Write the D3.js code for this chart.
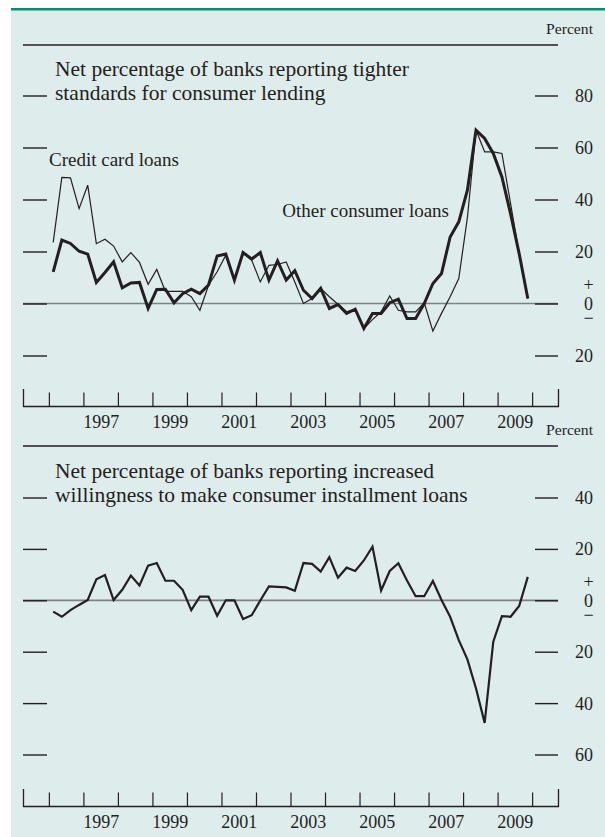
<!DOCTYPE html>
<html>
<head>
<meta charset="utf-8">
<script src="https://cdn.jsdelivr.net/npm/d3@7"></script>
<style>
  html, body { margin: 0; padding: 0; background: #ffffff; }
  svg { display: block; }
</style>
</head>
<body>
<svg id="chart" width="605" height="837"></svg>
<script>
// ---------------- DATA ----------------
const quarters = [
  "1996Q1","1996Q2","1996Q3","1996Q4","1997Q1","1997Q2","1997Q3","1997Q4",
  "1998Q1","1998Q2","1998Q3","1998Q4","1999Q1","1999Q2","1999Q3","1999Q4",
  "2000Q1","2000Q2","2000Q3","2000Q4","2001Q1","2001Q2","2001Q3","2001Q4",
  "2002Q1","2002Q2","2002Q3","2002Q4","2003Q1","2003Q2","2003Q3","2003Q4",
  "2004Q1","2004Q2","2004Q3","2004Q4","2005Q1","2005Q2","2005Q3","2005Q4",
  "2006Q1","2006Q2","2006Q3","2006Q4","2007Q1","2007Q2","2007Q3","2007Q4",
  "2008Q1","2008Q2","2008Q3","2008Q4","2009Q1","2009Q2","2009Q3","2009Q4"
];
// Tighter standards, credit card loans (thin line)
const creditCard = [
  23.5, 48.5, 48.3, 36.5, 45.5, 23.0, 24.7, 22.1,
  16.0, 19.6, 15.8, 7.4, 13.1, 4.7, 4.7, 4.7,
  2.6, -2.6, 7.0, 12.2, 18.6, 9.0, 19.6, 16.7,
  8.3, 14.7, 15.0, 16.0, 8.3, 0.0, 1.9, 5.8,
  2.6, -0.3, -3.2, -2.2, -9.6, -6.2, -3.2, 2.9,
  -2.6, -3.2, -3.2, 0.3, -10.6, -3.8, 2.6, 9.6,
  33.0, 66.7, 58.3, 58.3, 57.7, 38.5, 19.2, 1.9
];
// Tighter standards, other consumer loans (thick line)
const otherConsumer = [
  12.2, 24.4, 23.1, 20.1, 19.0, 8.1, 11.9, 16.0,
  6.0, 7.9, 8.1, -1.9, 5.4, 5.5, 0.3, 3.8,
  5.5, 3.8, 7.1, 18.3, 19.0, 9.0, 19.6, 17.1,
  19.6, 9.0, 16.4, 9.0, 12.6, 5.1, 1.9, 5.8,
  -1.9, -0.4, -3.8, -2.2, -9.6, -3.8, -3.8, 0.3,
  1.7, -5.8, -5.8, 0.0, 7.7, 11.5, 25.6, 31.4,
  43.6, 66.7, 63.5, 57.7, 48.7, 34.6, 19.2, 1.9
];
// Increased willingness to make consumer installment loans
const willingness = [
  -4.4, -6.4, -3.8, -1.8, 0.1, 8.2, 9.8, 0.1,
  4.1, 9.6, 5.8, 13.5, 14.5, 7.6, 7.6, 4.1,
  -3.8, 1.4, 1.4, -6.0, 0.0, 0.0, -7.3, -5.8,
  -0.1, 5.4, 5.2, 5.0, 3.7, 14.5, 14.2, 11.2,
  16.8, 8.8, 12.7, 11.4, 15.5, 20.9, 3.8, 11.4,
  14.4, 7.7, 1.6, 1.6, 7.5, 0.1, -6.4, -15.5,
  -23.0, -34.3, -47.7, -16.1, -6.2, -6.4, -2.2, 9.1
];
const yearTicks = [1996,1997,1998,1999,2000,2001,2002,2003,2004,2005,2006,2007,2008,2009,2010];
const yearLabels = ["1997","1999","2001","2003","2005","2007","2009"];
const topTicks = [80, 60, 40, 20, 0, -20];
const bottomTicks = [40, 20, 0, -20, -40, -60];
const topTitle = ["Net percentage of banks reporting tighter", "standards for consumer lending"];
const bottomTitle = ["Net percentage of banks reporting increased", "willingness to make consumer installment loans"];
const seriesLabels = ["Credit card loans", "Other consumer loans"];

// ---------------- SETUP ----------------
const INK = "#231f20";
const SERIF = "'Liberation Serif', 'Times New Roman', Times, serif";
const svg = d3.select("#chart");

const qTime = q => +q.slice(0, 4) + (+q.slice(5) - 1) / 4 + 0.125;
const xScale = d3.scaleLinear().domain([1995.25, 2010.75]).range([23, 558]);

// background and top rule
svg.append("rect").attr("x", 11).attr("y", 9).attr("width", 594).attr("height", 828).attr("fill", "#dfecec");
svg.append("rect").attr("x", 11).attr("y", 8).attr("width", 594).attr("height", 2.5).attr("fill", "#0b8a74");

function panel(cfg) {
  const g = svg.append("g");
  const y = d3.scaleLinear().domain(cfg.domain).range(cfg.range);

  // "Percent" and header rule
  g.append("text").attr("x", 593).attr("y", cfg.percentY).attr("text-anchor", "end")
    .attr("font-family", SERIF).attr("font-size", 14.5).attr("fill", INK)
    .attr("textLength", 47).attr("lengthAdjust", "spacingAndGlyphs")
    .text("Percent");
  g.append("line").attr("x1", 23).attr("x2", 558).attr("y1", cfg.ruleY).attr("y2", cfg.ruleY)
    .attr("stroke", INK).attr("stroke-width", 1.3);

  // title
  g.selectAll("text.title").data(cfg.title).join("text").attr("class", "title")
    .attr("x", 55).attr("y", (d, i) => cfg.titleY + i * 24)
    .attr("font-family", SERIF).attr("font-size", 21.5).attr("fill", INK)
    .text(d => d);

  // zero line
  g.append("line").attr("x1", 23).attr("x2", 558).attr("y1", y(0)).attr("y2", y(0))
    .attr("stroke", "#7d8283").attr("stroke-width", 1.7);

  // left dashes
  const la = g.append("g").attr("transform", "translate(47,0)")
    .call(d3.axisLeft(y).tickValues(cfg.ticks).tickSize(24).tickFormat(""));
  la.select(".domain").remove();
  la.selectAll(".tick line").attr("stroke", INK).attr("stroke-width", 1.4);

  // right dashes + labels
  const ra = g.append("g").attr("transform", "translate(535,0)")
    .call(d3.axisRight(y).tickValues(cfg.ticks).tickSize(23)
      .tickFormat(d => d === 0 ? "0" : String(Math.abs(d))));
  ra.select(".domain").remove();
  ra.selectAll(".tick line").attr("stroke", INK).attr("stroke-width", 1.4);
  ra.selectAll(".tick text").attr("x", 58).attr("text-anchor", "end")
    .attr("font-family", SERIF).attr("font-size", 18).attr("fill", INK)
    .attr("dy", "0.33em");
  ra.selectAll(".tick").filter(d => d === 0).select("text")
    .attr("x", 53.5).attr("text-anchor", "middle");
  ra.append("text").attr("x", 53.5).attr("y", y(0) - 18.5).attr("dy", "0.33em")
    .attr("text-anchor", "middle").attr("font-family", SERIF).attr("font-size", 18).attr("fill", INK).text("+");
  ra.append("text").attr("x", 53.5).attr("y", y(0) + 14.5).attr("dy", "0.33em")
    .attr("text-anchor", "middle").attr("font-family", SERIF).attr("font-size", 18).attr("fill", INK).text("\u2212");

  // x axis ticks
  const xa = g.append("g").attr("transform", `translate(0,${cfg.axisY})`)
    .call(d3.axisBottom(xScale).tickValues(yearTicks).tickSizeInner(-13.5).tickSizeOuter(-17).tickFormat(""));
  xa.select(".domain").attr("stroke", INK).attr("stroke-width", 1.3);
  xa.selectAll(".tick line").attr("stroke", INK).attr("stroke-width", 1.2);

  // x axis labels (centred in the year)
  const xl = g.append("g").attr("transform", `translate(0,${cfg.axisY})`)
    .call(d3.axisBottom(xScale).tickValues(yearLabels.map(s => +s + 0.5)).tickSize(0).tickPadding(9)
      .tickFormat((d, i) => yearLabels[i]));
  xl.select(".domain").remove();
  xl.selectAll(".tick text").attr("font-family", SERIF).attr("font-size", 18).attr("fill", INK);

  // series
  cfg.series.forEach(s => {
    const line = d3.line().x((d, i) => xScale(qTime(quarters[i]))).y(d => y(d));
    g.append("path").datum(s.values).attr("d", line).attr("fill", "none")
      .attr("stroke", INK).attr("stroke-width", s.width).attr("stroke-linejoin", "miter");
  });
  return { g, y };
}

const topPanel = panel({
  domain: [-20, 80], range: [355.5, 95.5],
  percentY: 34, ruleY: 45, titleY: 76, axisY: 406,
  ticks: topTicks, title: topTitle,
  series: [{ values: creditCard, width: 1.2 }, { values: otherConsumer, width: 3 }]
});
topPanel.g.append("text").attr("x", 49).attr("y", 166).attr("font-family", SERIF).attr("font-size", 19)
  .attr("fill", INK).text(seriesLabels[0]);
topPanel.g.append("text").attr("x", 449).attr("y", 217).attr("text-anchor", "end").attr("font-family", SERIF)
  .attr("font-size", 19).attr("fill", INK).text(seriesLabels[1]);

panel({
  domain: [-60, 40], range: [754.5, 497.5],
  percentY: 435, ruleY: 446, titleY: 478, axisY: 806,
  ticks: bottomTicks, title: bottomTitle,
  series: [{ values: willingness, width: 2.2 }]
});
</script>
</body>
</html>
